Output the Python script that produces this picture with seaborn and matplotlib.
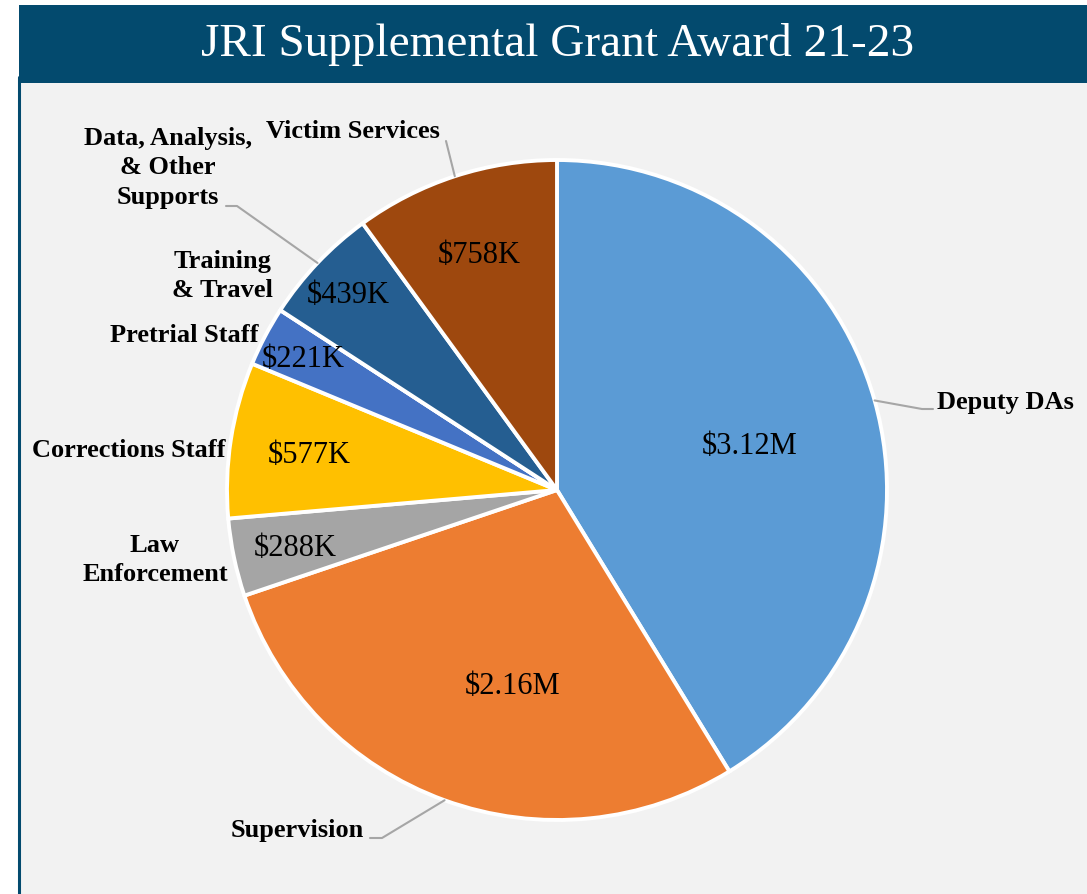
import numpy as np
import matplotlib
matplotlib.use("Agg")
import matplotlib.pyplot as plt
from matplotlib.patches import Rectangle
from matplotlib.lines import Line2D
import seaborn as sns

# slices, clockwise from 12 o'clock ($ millions)
categories = ["Deputy DAs", "Supervision", "Law\nEnforcement", "Corrections Staff",
              "Pretrial Staff", "Training\n& Travel", "Data, Analysis,\n& Other\nSupports",
              "Victim Services"]
amounts = [3.12, 2.16, 0.288, 0.577, 0.221, 0.0, 0.439, 0.758]
value_labels = ["$3.12M", "$2.16M", "$288K", "$577K", "$221K", "", "$439K", "$758K"]
colors = ["#5B9BD5", "#ED7D31", "#A5A5A5", "#FFC000", "#4472C4", "#70AD47",
          "#255E91", "#9E480E"]

W, H = 1087, 894
BANNER = "#034A6E"

sns.set_style("white")
plt.rcParams["font.family"] = ["Liberation Serif", "DejaVu Serif"]
plt.rcParams["text.color"] = "black"

fig = plt.figure(figsize=(W / 100, H / 100), dpi=100)
fig.patch.set_facecolor("white")


def fp(x, y):
    # pixel (top-left origin) -> figure fraction
    return x / W, 1 - y / H


# background panels
fig.add_artist(Rectangle(fp(20, 894), (W - 20) / W, (894 - 83) / H,
                         transform=fig.transFigure, facecolor="#F2F2F2",
                         edgecolor="none", zorder=0))
fig.add_artist(Rectangle(fp(19, 83), (W - 19) / W, (83 - 5) / H,
                         transform=fig.transFigure, facecolor=BANNER,
                         edgecolor="none", zorder=0))
fig.add_artist(Line2D([18.5 / W, 18.5 / W], [0, 1 - 77 / H], transform=fig.transFigure,
                      color=BANNER, lw=2.2, zorder=1))
fig.text(*fp(558, 45), "JRI Supplemental Grant Award 21-23", color="white",
         fontsize=34, ha="center", va="center")

# pie
cx, cy, r = 557, 490, 330
left, bottom = fp(cx - r, cy + r)
ax = fig.add_axes([left, bottom, 2 * r / W, 2 * r / H])
ax.set_facecolor("none")
wedges, _ = ax.pie(amounts, colors=colors, startangle=90, counterclock=False,
                   wedgeprops=dict(edgecolor="white", linewidth=2.8))
ax.set_xlim(-1, 1)
ax.set_ylim(-1, 1)
ax.set_aspect("auto")
ax.axis("off")

# value labels inside slices (radius, angle nudge in degrees)
radii = [0.6, 0.6, 0.81, 0.76, 0.87, 0.0, 0.87, 0.76]
nudge = [-2, 7, 0, 0, 0, 0, 0, 0]
for w, lab, rr, dn in zip(wedges, value_labels, radii, nudge):
    if not lab:
        continue
    mid = np.deg2rad((w.theta1 + w.theta2) / 2 + dn)
    ax.text(rr * np.cos(mid), rr * np.sin(mid), lab, fontsize=22,
            ha="center", va="center_baseline", color="black")

# category labels
label_pos = [(937, 402, "left"), (364, 830, "right"), (155, 560, "center"),
             (225, 450, "right"), (258, 335, "right"), (222, 276, "center"),
             (168, 168, "center"), (353, 131, "center")]
for name, (x, y, ha) in zip(categories, label_pos):
    fig.text(*fp(x, y), name, fontsize=19, fontweight="bold", ha=ha, va="center",
             multialignment="center", linespacing=1.35, color="black")

# leader lines: slice index -> (elbow, end) in pixels
leaders = {0: [(922, 409), (933, 409)],
           1: [(382, 838), (370, 838)],
           6: [(237, 206), (226, 206)],
           7: [(446, 141)]}
to_fig = ax.transData + fig.transFigure.inverted()
for i, pts in leaders.items():
    w = wedges[i]
    mid = np.deg2rad((w.theta1 + w.theta2) / 2)
    start = to_fig.transform((np.cos(mid), np.sin(mid)))
    xs = [start[0]] + [fp(*p)[0] for p in pts]
    ys = [start[1]] + [fp(*p)[1] for p in pts]
    fig.add_artist(Line2D(xs, ys, transform=fig.transFigure, color="#A6A6A6", lw=1.5))

fig.savefig("out.png", dpi=100)
